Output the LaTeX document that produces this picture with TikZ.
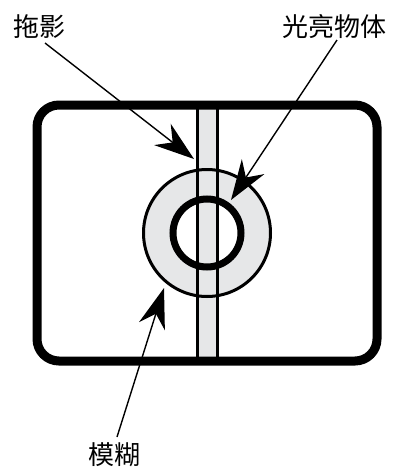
\documentclass[tikz,border=0pt]{standalone}
\usepackage{fontspec}
\newfontfamily\cjk{Noto Sans CJK SC}
\usetikzlibrary{arrows.meta}
\definecolor{lightfill}{HTML}{E6E7E8}
\begin{document}
\begin{tikzpicture}[x=1pt,y=-1pt,
  lbl/.style={font=\cjk\fontsize{26}{26}\selectfont, inner sep=0pt},
  pointer/.style={line width=1.4pt, -{Stealth[length=40pt,width=27pt,inset=13pt]}},
  frame/.style={line width=9pt, rounded corners=22pt},
]
\useasboundingbox (0,0) rectangle (395,469);
% ring fill
\fill[lightfill] (207,233) circle (63.5);
\fill[white] (207,233) circle (34);
% strip
\filldraw[fill=lightfill, draw=black, line width=3pt] (197.5,105) rectangle (217.5,361);
% circles
\draw[line width=3pt] (207,233) circle (63.5);
\draw[line width=7pt] (207,233) circle (34);
% frame
\draw[frame] (37,105) rectangle (377,361);
% labels
\node[lbl] (t1) at (39,27) {拖影};
\node[lbl] (t2) at (334,27) {光亮物体};
\node[lbl] (t3) at (114,455) {模糊};
\coordinate (s1) at (45,43);
\coordinate (e1) at (194,159);
\coordinate (s2) at (337,40);
\coordinate (e2) at (231,200);
\coordinate (s3) at (117,437);
\coordinate (e3) at (164,288);
\draw[pointer] (s1) -- (e1);
\draw[pointer] (s2) -- (e2);
\draw[pointer] (s3) -- (e3);
\end{tikzpicture}
\end{document}
